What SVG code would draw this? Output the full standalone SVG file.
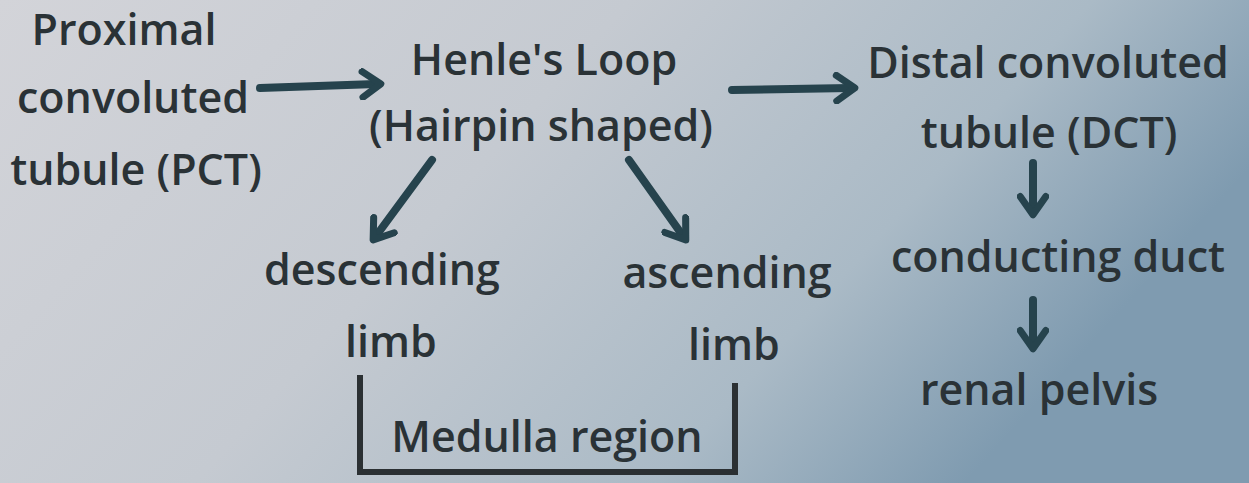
<svg xmlns="http://www.w3.org/2000/svg" width="1249" height="483" viewBox="0 0 1249 483">
<defs>
<linearGradient id="bg" x1="0" y1="0" x2="1" y2="0.35">
<stop offset="0" stop-color="#d3d4d9"/>
<stop offset="0.45" stop-color="#c5cad1"/>
<stop offset="0.78" stop-color="#aabac6"/>
<stop offset="1" stop-color="#7f9bb0"/>
</linearGradient>
<marker id="ah" viewBox="0 0 10 10" refX="6" refY="5" markerWidth="4" markerHeight="4" orient="auto" markerUnits="strokeWidth">
<path d="M1.8,1 L7.5,5 L1.8,9" fill="none" stroke="#26434d" stroke-width="2.2" stroke-linecap="round" stroke-linejoin="round"/>
</marker>
<style>
text{font-family:"Open Sans","Noto Sans",sans-serif;font-weight:600;font-size:43px;fill:#2a3236;text-anchor:middle}
.arr{stroke:#26434d;stroke-width:8;fill:none;stroke-linecap:round;marker-end:url(#ah)}
.br{stroke:#2b3033;stroke-width:6;fill:none}
</style>
</defs>
<rect width="1249" height="483" fill="url(#bg)"/>
<g id="pct">
<text x="124" y="45">Proximal</text>
<text x="133" y="113">convoluted</text>
<text x="136" y="185">tubule (PCT)</text>
</g>
<g id="henle">
<text x="544" y="75">Henle's Loop</text>
<text x="541" y="141">(Hairpin shaped)</text>
</g>
<g id="dct">
<text x="1048" y="78">Distal convoluted</text>
<text x="1049" y="148">tubule (DCT)</text>
</g>
<g id="descending">
<text x="382" y="285">descending</text>
<text x="391" y="357">limb</text>
</g>
<g id="ascending">
<text x="727" y="288">ascending</text>
<text x="734" y="360">limb</text>
</g>
<g id="duct">
<text x="1058" y="272">conducting duct</text>
</g>
<g id="pelvis">
<text x="1039" y="405">renal pelvis</text>
</g>
<g id="medulla">
<text x="547" y="452">Medulla region</text>
<path class="br" d="M360,375 V472 H735 V383"/>
</g>
<g id="connectors">
<path class="arr" d="M260,88 L376,84"/>
<path class="arr" d="M732,90 L850,88"/>
<path class="arr" d="M432,160 L376,236"/>
<path class="arr" d="M629,160 L683,236"/>
<path class="arr" d="M1033,163 L1033,210"/>
<path class="arr" d="M1033,300 L1033,344"/>
</g>
</svg>
